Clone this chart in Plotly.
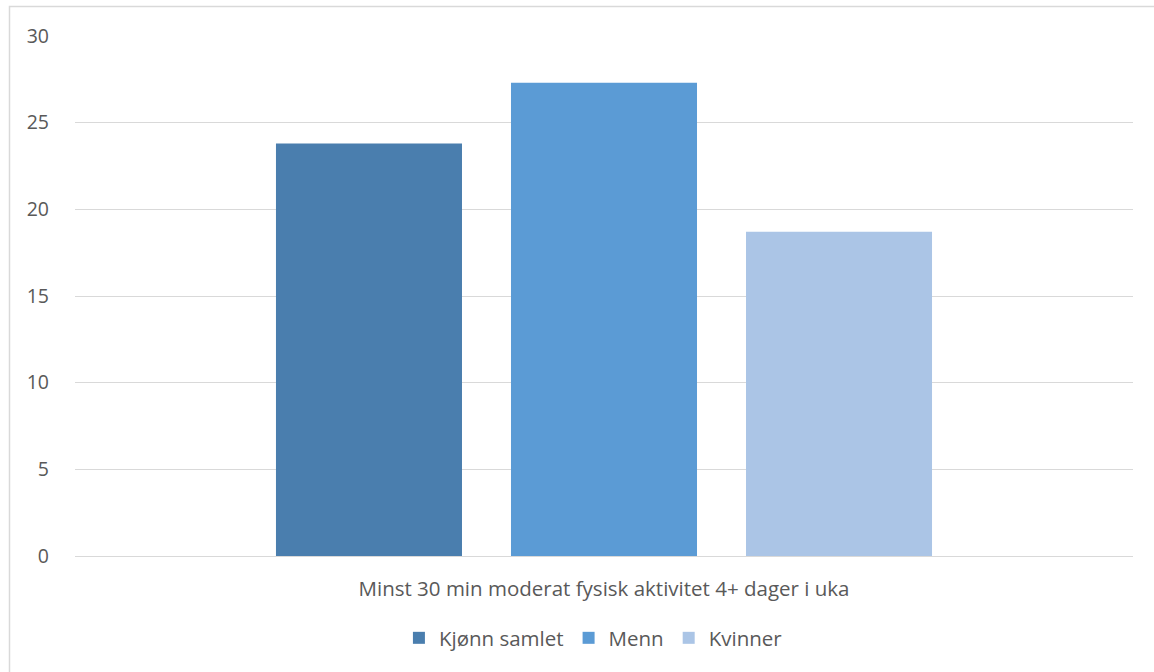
import plotly.graph_objects as go

category = ["Minst 30 min moderat fysisk aktivitet 4+ dager i uka"]
series_names = ["Kjønn samlet", "Menn", "Kvinner"]
series_values = [[23.8], [27.3], [18.7]]
series_colors = ["#4a7eae", "#5b9bd5", "#abc5e6"]
y_ticks = [0, 5, 10, 15, 20, 25, 30]

FONT = "Open Sans"
TXT = "#595959"

fig = go.Figure()
for name, vals, col in zip(series_names, series_values, series_colors):
    fig.add_trace(go.Bar(x=category, y=vals, name=name, marker=dict(color=col, line=dict(width=0))))

W, H = 1154, 672
L, T = 75, 36
R = W - 1133
B = H - 556
pw = W - L - R
ph = H - T - B

def py(pix):
    return (556 - pix) / ph

fig.update_layout(
    width=W, height=H,
    margin=dict(l=L, r=R, t=T, b=B),
    paper_bgcolor="white", plot_bgcolor="white",
    barmode="group", bargap=0.3336, bargroupgap=0.2085,
    font=dict(family=FONT, size=20.5, color=TXT),
    showlegend=True,
    legend=dict(orientation="h", x=0.49, xanchor="center", y=py(638), yanchor="middle",
                font=dict(family=FONT, size=20.5, color=TXT), traceorder="normal"),
    xaxis=dict(type="category", showgrid=False, showline=False, ticks="", ticklabelstandoff=18,
               tickfont=dict(family=FONT, size=20.5, color=TXT)),
    yaxis=dict(range=[0, 30], tickvals=y_ticks, showgrid=True, gridcolor="#d9d9d9", gridwidth=1,
               zeroline=True, zerolinecolor="#d9d9d9", zerolinewidth=1, showline=False,
               ticklabelstandoff=25, tickfont=dict(family=FONT, size=19.5, color=TXT)),
    shapes=[dict(type="rect", xref="paper", yref="paper",
                 x0=(9.5 - L) / pw, x1=1.2, y0=-1.0, y1=py(6.5),
                 line=dict(color="#d9d9d9", width=1.5), fillcolor="rgba(0,0,0,0)", layer="below")],
)

fig.write_html("out.html", config={"displayModeBar": False},
               post_script="document.body.style.margin='0';document.body.style.overflow='hidden';")
